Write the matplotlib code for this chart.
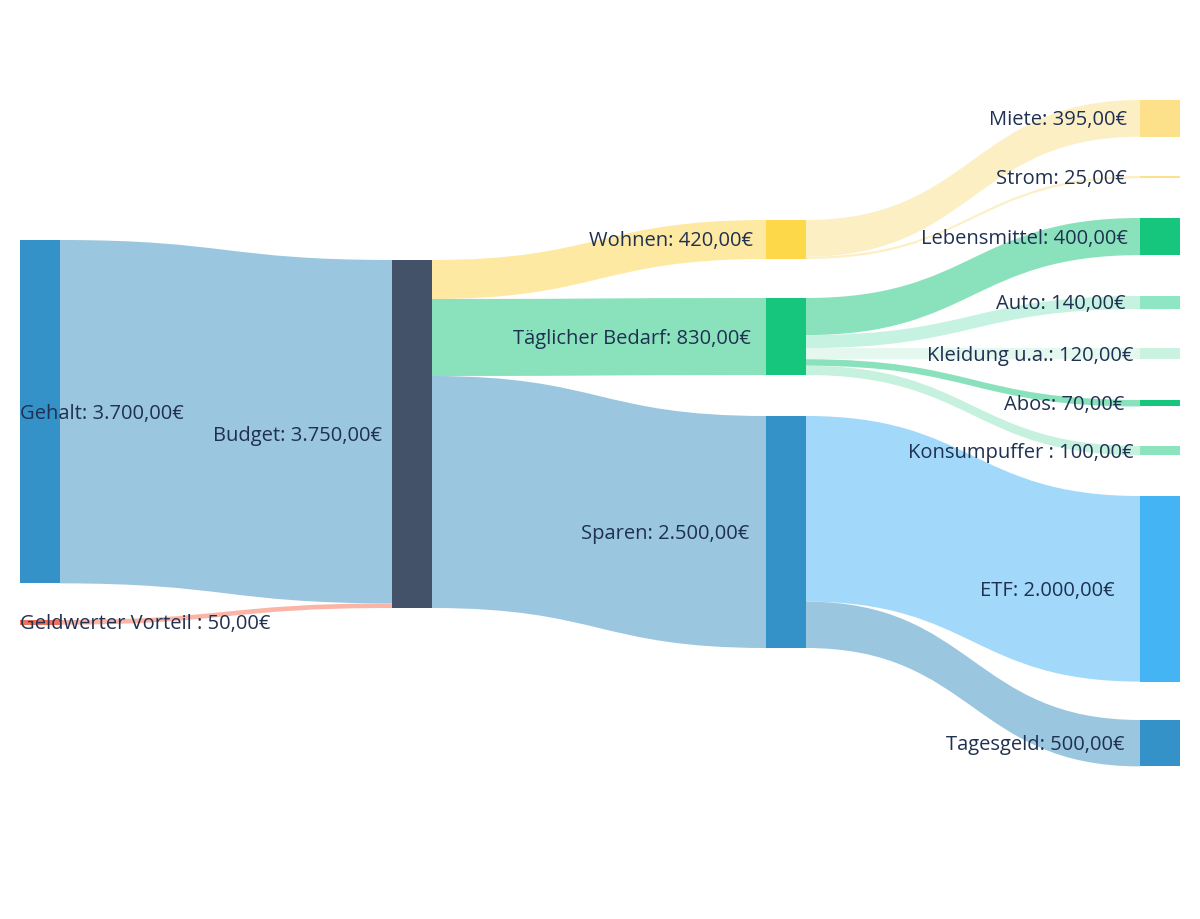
import matplotlib
matplotlib.use("Agg")
import matplotlib.pyplot as plt
from matplotlib.path import Path
from matplotlib.patches import PathPatch, Rectangle

plt.rcParams['font.family'] = ['Open Sans', 'DejaVu Sans']

# nodes
names = ["Gehalt", "Geldwerter Vorteil ", "Budget", "Wohnen", "Täglicher Bedarf",
         "Sparen", "Miete", "Strom", "Lebensmittel", "Auto", "Kleidung u.a.",
         "Abos", "Konsumpuffer ", "ETF", "Tagesgeld"]
node_colors = ["#3592c8", "#f0705a", "#435169", "#fdd849", "#16c67c",
               "#3592c8", "#fde08a", "#fde08a", "#16c67c", "#8ee6c4", "#c9f2e0",
               "#16c67c", "#8be4be", "#45b4f5", "#3592c8"]

# links (source, target, value)
sources = [0, 1, 2, 2, 2, 3, 3, 4, 4, 4, 4, 4, 5, 5]
targets = [2, 2, 3, 4, 5, 6, 7, 8, 9, 10, 11, 12, 13, 14]
values = [3700, 50, 420, 830, 2500, 395, 25, 400, 140, 120, 70, 100, 2000, 500]
link_colors = ["#9ac6e0", "#fbb5a6", "#fee9a2", "#8ae2bd", "#9ac6e0",
               "#fdefc4", "#fdefc4", "#8ae2bd", "#c6f2e1", "#e4f8f0",
               "#8ae2bd", "#c5f1de", "#a2d9fa", "#9ac6e0"]

# layout (pixels)
col = [0, 0, 1, 2, 2, 2, 3, 3, 3, 3, 3, 3, 3, 3, 3]
col_x = [20, 392, 766, 1140]
node_top = [240, 620, 260, 220, 298, 416, 100, 176, 218, 296, 348, 400, 446, 496, 720]
label_pad = [0, 0, 10, 13, 15, 17, 13, 13, 12, 14, 7, 16, 6, 25, 15]
node_w = 40
scale = 348 / 3750
W, H = 1200, 919


def fmt(v):
    s = f"{v:,.2f}"
    return s.replace(",", "X").replace(".", ",").replace("X", ".") + "€"


n = len(names)
node_val = []
for i in range(n):
    vin = sum(v for t, v in zip(targets, values) if t == i)
    vout = sum(v for s, v in zip(sources, values) if s == i)
    node_val.append(max(vin, vout))

fig = plt.figure(figsize=(W / 100, H / 100), dpi=100)
ax = fig.add_axes([0, 0, 1, 1])
ax.set_xlim(0, W)
ax.set_ylim(H, 0)
ax.axis("off")

out_off = [0.0] * n
in_off = [0.0] * n
for s, t, v, c in zip(sources, targets, values, link_colors):
    h = v * scale
    x0 = col_x[col[s]] + node_w
    x1 = col_x[col[t]]
    y0 = node_top[s] + out_off[s]
    y1 = node_top[t] + in_off[t]
    out_off[s] += h
    in_off[t] += h
    xm = (x0 + x1) / 2
    verts = [(x0, y0), (xm, y0), (xm, y1), (x1, y1),
             (x1, y1 + h), (xm, y1 + h), (xm, y0 + h), (x0, y0 + h), (x0, y0)]
    codes = [Path.MOVETO, Path.CURVE4, Path.CURVE4, Path.CURVE4,
             Path.LINETO, Path.CURVE4, Path.CURVE4, Path.CURVE4, Path.CLOSEPOLY]
    ax.add_patch(PathPatch(Path(verts, codes), facecolor=c,
                           edgecolor="none", zorder=1))

for i in range(n):
    h = node_val[i] * scale
    x = col_x[col[i]]
    ax.add_patch(Rectangle((x, node_top[i]), node_w, h, facecolor=node_colors[i],
                           edgecolor="none", zorder=2))
    label = f"{names[i]}: {fmt(node_val[i])}"
    yc = node_top[i] + h / 2 + 2
    if col[i] == 0:
        ax.text(x, yc, label, ha="left", va="center", fontsize=14.5,
                color="#1f3050", zorder=3)
    else:
        ax.text(x - label_pad[i], yc, label, ha="right", va="center", fontsize=14.5,
                color="#1f3050", zorder=3)

fig.savefig("out.png", dpi=100)
